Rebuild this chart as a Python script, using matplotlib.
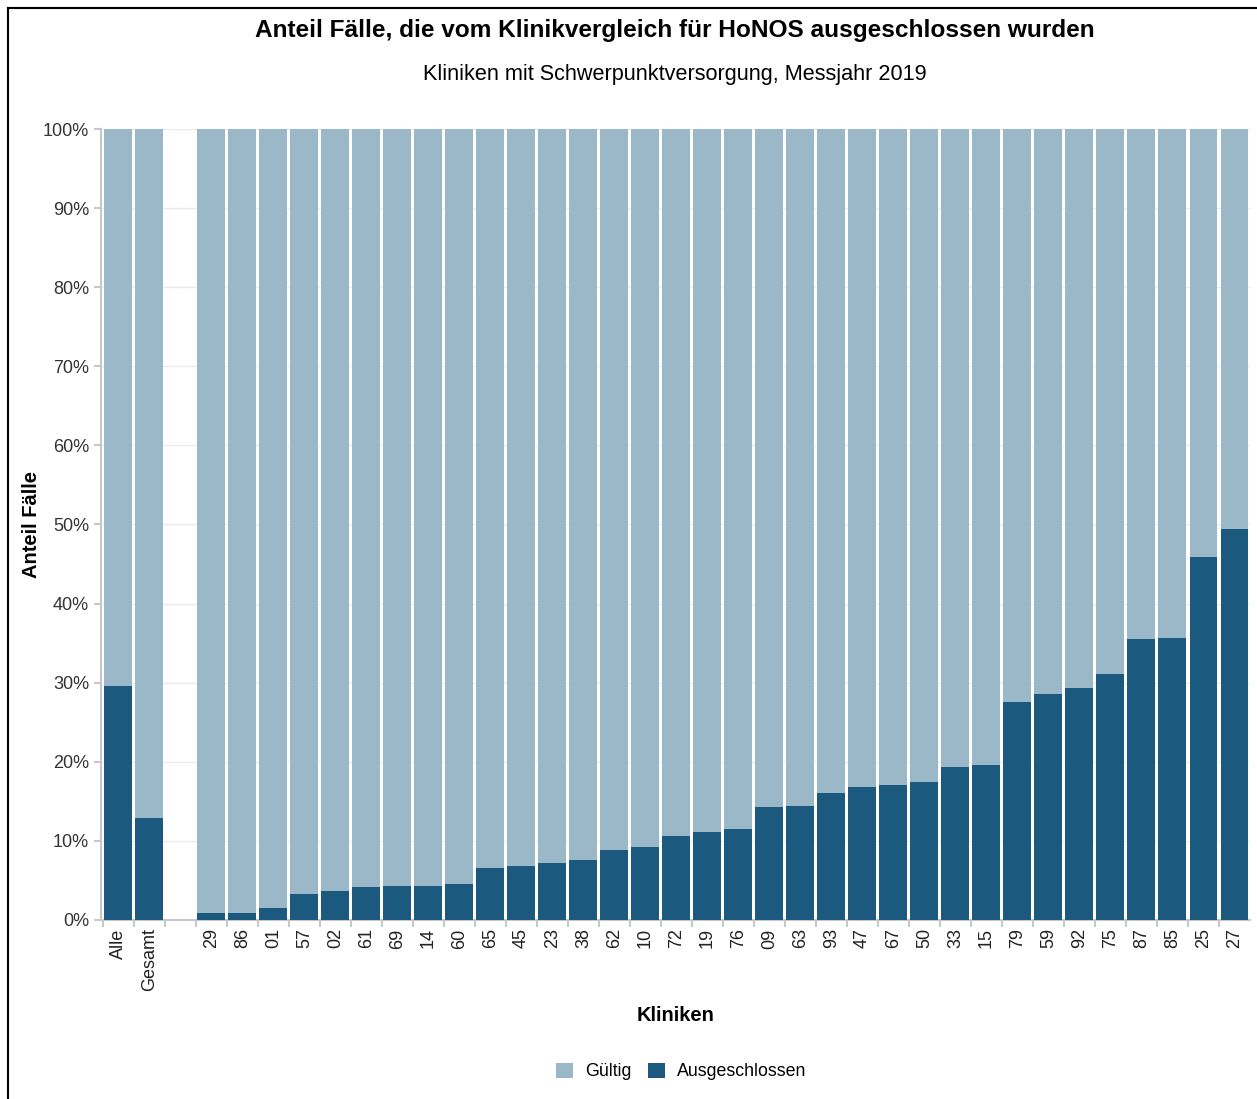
import matplotlib
matplotlib.use('Agg')
import matplotlib.pyplot as plt
import numpy as np
from matplotlib.patches import Patch
from matplotlib.lines import Line2D

plt.rcParams['font.family'] = ['Liberation Sans', 'DejaVu Sans']

# Data (percent of cases excluded)
labels = ['Alle', 'Gesamt', '',
          '29', '86', '01', '57', '02', '61', '69', '14', '60', '65', '45', '23',
          '38', '62', '10', '72', '19', '76', '09', '63', '93', '47', '67', '50',
          '33', '15', '79', '59', '92', '75', '87', '85', '25', '27']
ausgeschlossen = [29.6, 12.9, np.nan,
                  0.9, 0.9, 1.5, 3.3, 3.7, 4.2, 4.3, 4.3, 4.6, 6.6, 6.8, 7.2,
                  7.6, 8.8, 9.2, 10.6, 11.1, 11.5, 14.3, 14.4, 16.1, 16.8, 17.1, 17.4,
                  19.3, 19.6, 27.6, 28.6, 29.3, 31.1, 35.5, 35.7, 45.9, 49.4]

light = '#9bb8c9'
dark = '#1b5a7e'

excl = np.array(ausgeschlossen)
valid = 100 - excl
x = np.arange(len(labels))
mask = ~np.isnan(excl)

fig = plt.figure(figsize=(12.57, 10.99), dpi=100)
ax = fig.add_axes([0.0803, 0.1629, 0.9141, 0.7197])

ax.bar(x[mask], excl[mask], width=0.9, color=dark, zorder=3)
ax.bar(x[mask], valid[mask], bottom=excl[mask], width=0.9, color=light, zorder=3)

ax.set_ylim(0, 100)
ax.set_xlim(-0.56, len(labels) - 0.5)
ax.set_yticks(np.arange(0, 101, 10))
ax.set_yticklabels([f'{v}%' for v in range(0, 101, 10)], fontsize=13, color='#333333')
ax.grid(axis='y', color='#ebebeb', linewidth=1, zorder=0)

ax.set_xticks(x)
ax.set_xticklabels(labels, rotation=90, fontsize=13, color='#222222')
ax.tick_params(axis='x', length=0, pad=6)
ax.set_xticks(np.arange(-0.5, len(labels) - 0.5, 1), minor=True)
ax.tick_params(axis='x', which='minor', length=5, color='#c8c8c8', width=1.5)
ax.tick_params(axis='y', length=5, color='#c8c8c8', width=1.5)

for s in ['top', 'right']:
    ax.spines[s].set_visible(False)
ax.spines['left'].set_color('#c8c8c8')
ax.spines['left'].set_linewidth(1.5)
ax.spines['bottom'].set_color('#c8c8c8')
ax.spines['bottom'].set_linewidth(1.5)

ax.set_ylabel('Anteil Fälle', fontsize=14.5, fontweight='bold')
ax.yaxis.set_label_coords(-0.052, 0.5)
ax.set_xlabel('Kliniken', fontsize=14.5, fontweight='bold')
ax.xaxis.set_label_coords(0.5, -0.109)

fig.text(0.537, 0.972, 'Anteil Fälle, die vom Klinikvergleich für HoNOS ausgeschlossen wurden',
         ha='center', va='center', fontsize=17.6, fontweight='bold')
fig.text(0.537, 0.932, 'Kliniken mit Schwerpunktversorgung, Messjahr 2019',
         ha='center', va='center', fontsize=15.6)

handles = [Patch(facecolor=light, label='Gültig'), Patch(facecolor=dark, label='Ausgeschlossen')]
fig.legend(handles=handles, loc='center', bbox_to_anchor=(0.542, 0.025), ncol=2,
           frameon=False, fontsize=12.8, handlelength=0.95, handleheight=0.95,
           columnspacing=0.9, handletextpad=0.7)

# outer frame lines (left and top)
fig.add_artist(Line2D([0.0064, 0.0064], [0, 0.9927], transform=fig.transFigure, color='black', linewidth=1.5))
fig.add_artist(Line2D([0.0064, 1.0], [0.9927, 0.9927], transform=fig.transFigure, color='black', linewidth=1.5))

fig.savefig('out.png', dpi=100)
